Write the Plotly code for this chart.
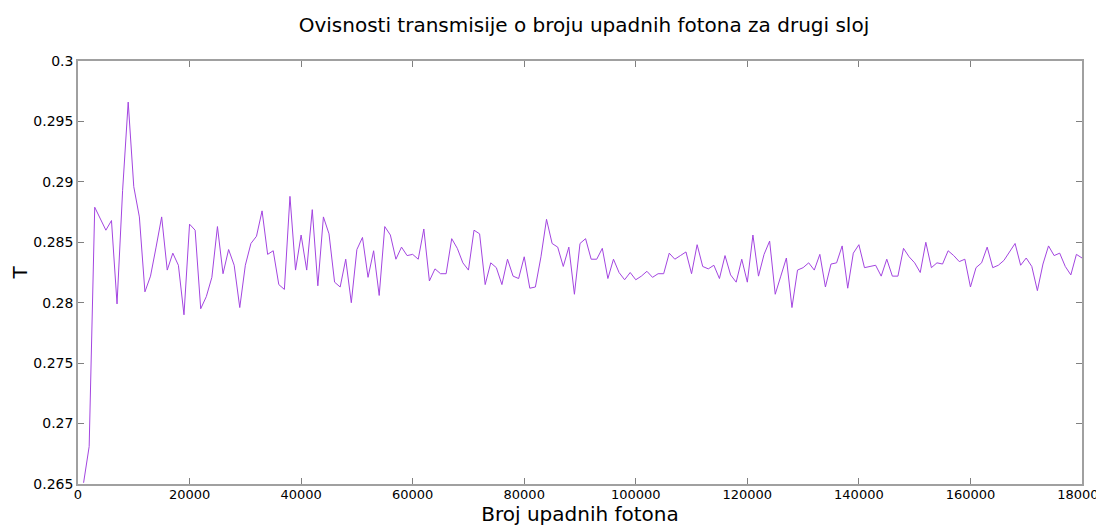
import plotly.graph_objects as go

photons = [1000 * n for n in range(1, 181)]
T = [
    0.2651, 0.2681, 0.2879, 0.2870, 0.2860, 0.2868, 0.2799, 0.2893, 0.2966, 0.2896,
    0.2871, 0.2809, 0.2822, 0.2846, 0.2871, 0.2827, 0.2841, 0.2831, 0.2790, 0.2865,
    0.2860, 0.2795, 0.2805, 0.2821, 0.2863, 0.2824, 0.2844, 0.2831, 0.2796, 0.2831,
    0.2849, 0.2855, 0.2876, 0.2840, 0.2843, 0.2815, 0.2811, 0.2888, 0.2827, 0.2856,
    0.2827, 0.2877, 0.2814, 0.2871, 0.2857, 0.2817, 0.2813, 0.2836, 0.2800, 0.2844,
    0.2854, 0.2821, 0.2843, 0.2806, 0.2863, 0.2856, 0.2836, 0.2846, 0.2839, 0.2840,
    0.2836, 0.2861, 0.2818, 0.2828, 0.2824, 0.2824, 0.2853, 0.2845, 0.2833, 0.2827,
    0.2860, 0.2857, 0.2815, 0.2833, 0.2829, 0.2815, 0.2836, 0.2822, 0.2820, 0.2838,
    0.2812, 0.2813, 0.2838, 0.2869, 0.2849, 0.2846, 0.2830, 0.2846, 0.2807, 0.2849,
    0.2853, 0.2836, 0.2836, 0.2845, 0.2820, 0.2836, 0.2825, 0.2819, 0.2825, 0.2819,
    0.2822, 0.2826, 0.2821, 0.2824, 0.2824, 0.2841, 0.2836, 0.2839, 0.2842, 0.2824,
    0.2848, 0.2830, 0.2828, 0.2831, 0.2820, 0.2839, 0.2823, 0.2817, 0.2836, 0.2817,
    0.2856, 0.2822, 0.2840, 0.2851, 0.2807, 0.2822, 0.2837, 0.2796, 0.2827, 0.2829,
    0.2833, 0.2827, 0.2840, 0.2813, 0.2832, 0.2833, 0.2847, 0.2812, 0.2841, 0.2848,
    0.2829, 0.2830, 0.2831, 0.2822, 0.2836, 0.2822, 0.2822, 0.2845, 0.2838, 0.2833,
    0.2825, 0.2850, 0.2829, 0.2833, 0.2832, 0.2843, 0.2839, 0.2834, 0.2836, 0.2813,
    0.2829, 0.2833, 0.2846, 0.2829, 0.2831, 0.2835, 0.2842, 0.2849, 0.2831, 0.2837,
    0.2830, 0.2810, 0.2832, 0.2847, 0.2839, 0.2841, 0.2830, 0.2823, 0.2840, 0.2837,
]

x_ticks = [0, 20000, 40000, 60000, 80000, 100000, 120000, 140000, 160000, 180000]
y_ticks = [0.265, 0.27, 0.275, 0.28, 0.285, 0.29, 0.295, 0.3]
y_tick_text = ["0.265", "0.27", "0.275", "0.28", "0.285", "0.29", "0.295", "0.3"]

fig = go.Figure()
fig.add_trace(go.Scatter(x=photons, y=T, mode="lines",
                         line=dict(color="#a345e0", width=1)))

axis_common = dict(showline=True, linecolor="#a0a0a0", linewidth=1.5, mirror="ticks",
                   ticks="inside", ticklen=6, tickcolor="#808080", tickwidth=1,
                   showgrid=False, zeroline=False, automargin=False,
                   ticklabeloverflow="allow")

fig.update_layout(
    width=1096, height=518,
    margin=dict(l=70, r=22, t=53, b=42),
    plot_bgcolor="white", paper_bgcolor="white",
    showlegend=False,
    title=dict(text="Ovisnosti transmisije o broju upadnih fotona za drugi sloj",
               x=0.5255, xanchor="center", y=0.968, yanchor="middle",
               font=dict(family="DejaVu Sans", size=20, color="black")),
    xaxis=dict(range=[0, 180000], tickvals=x_ticks, tickformat="d",
               ticklabelstandoff=-2,
               tickfont=dict(family="DejaVu Sans", size=13, color="black"),
               title=dict(text="Broj upadnih fotona", standoff=7,
                          font=dict(family="DejaVu Sans", size=20, color="black")),
               **axis_common),
    yaxis=dict(range=[0.265, 0.3], tickvals=y_ticks, ticktext=y_tick_text,
               tickfont=dict(family="DejaVu Sans", size=14, color="black"),
               title=dict(text="T", standoff=1,
                          font=dict(family="DejaVu Sans", size=20, color="black")),
               **axis_common),
)

fig.write_html("out.html")
